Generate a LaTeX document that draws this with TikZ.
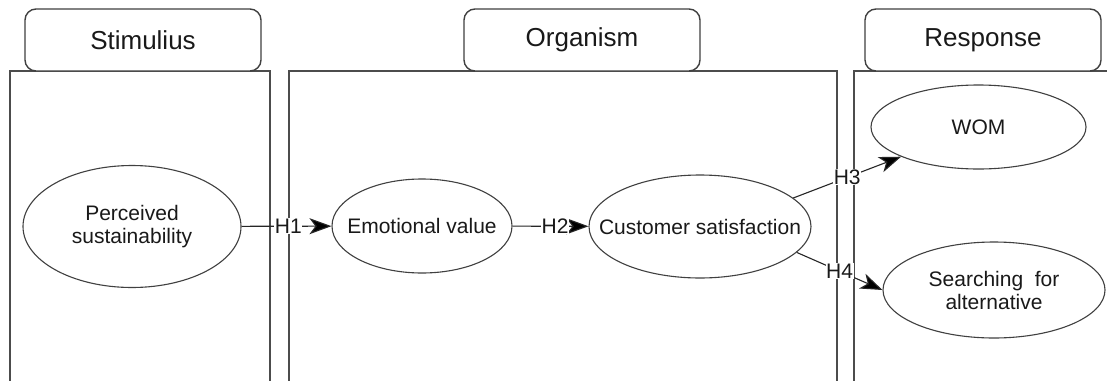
\documentclass[tikz,border=0pt]{standalone}
\usepackage{fontspec}
\setmainfont{Liberation Sans}
\usetikzlibrary{arrows.meta,shapes.geometric}
\begin{document}
\begin{tikzpicture}[x=1pt,y=-1pt,
  panel/.style={draw=black!70, line width=1.8pt},
  header/.style={draw=black!75, line width=1.4pt, rounded corners=11pt, fill=white,
    minimum width=236pt, minimum height=62pt, inner sep=0pt,
    font=\fontsize{26}{30}\selectfont, text=black!90},
  construct/.style={draw=black!75, line width=1.1pt, ellipse, inner sep=0pt},
  ctext/.style={align=center, font=\fontsize{21}{23}\selectfont, text=black!90, inner sep=0pt},
  link/.style={draw=black!85, line width=1.1pt,
    -{Stealth[length=22pt,width=16pt,inset=6pt,fill=black]}},
  hyp/.style={fill=white, inner sep=0.6pt, font=\fontsize{21}{24}\selectfont, text=black!90}
]
\clip (0,0) rectangle (1107,380);
\fill[white] (0,0) rectangle (1107,380);

% three columns of the S-O-R framework
\draw[panel] (10,400) -- (10,71) -- (270,71) -- (270,400);
\draw[panel] (289,400) -- (289,71) -- (837,71) -- (837,400);
\draw[panel] (854,400) -- (854,71) -- (1120,71);

% column headers
\node[header] (hs) at (143,40) {Stimulius};
\node[header] (ho) at (582,40) {Organism};
\node[header] (hr) at (983,40) {Response};

% constructs
\node[construct, minimum width=218pt, minimum height=122pt] (ps) at (132,226.5) {};
\node[ctext] (ps-t) at (ps.center) {Perceived\\sustainability};

\node[construct, minimum width=180pt, minimum height=94pt] (ev) at (422,226) {};
\node[ctext] (ev-t) at (ev.center) {Emotional value};

\node[construct, minimum width=222pt, minimum height=103pt] (cs) at (700,226.5) {};
\node[ctext] (cs-t) at (cs.center) {Customer satisfaction};

\node[construct, minimum width=215pt, minimum height=84pt] (wom) at (978.5,127) {};
\node[ctext] (wom-t) at (wom.center) {WOM};

\node[construct, minimum width=222pt, minimum height=96pt] (saf) at (994,290) {};
\node[ctext] (saf-t) at (saf.center) {Searching\hspace{0.55em}for\\alternative};

% hypothesised paths
\draw[link] (ps) -- (ev) node[hyp, pos=0.52] {H1};
\draw[link] (ev) -- (cs) node[hyp, pos=0.56] {H2};
\draw[link] (cs.17) -- (wom.201) node[hyp, pos=0.5] {H3};
\draw[link] (cs.-15) -- (saf.west) node[hyp, pos=0.5] {H4};
\end{tikzpicture}
\end{document}
